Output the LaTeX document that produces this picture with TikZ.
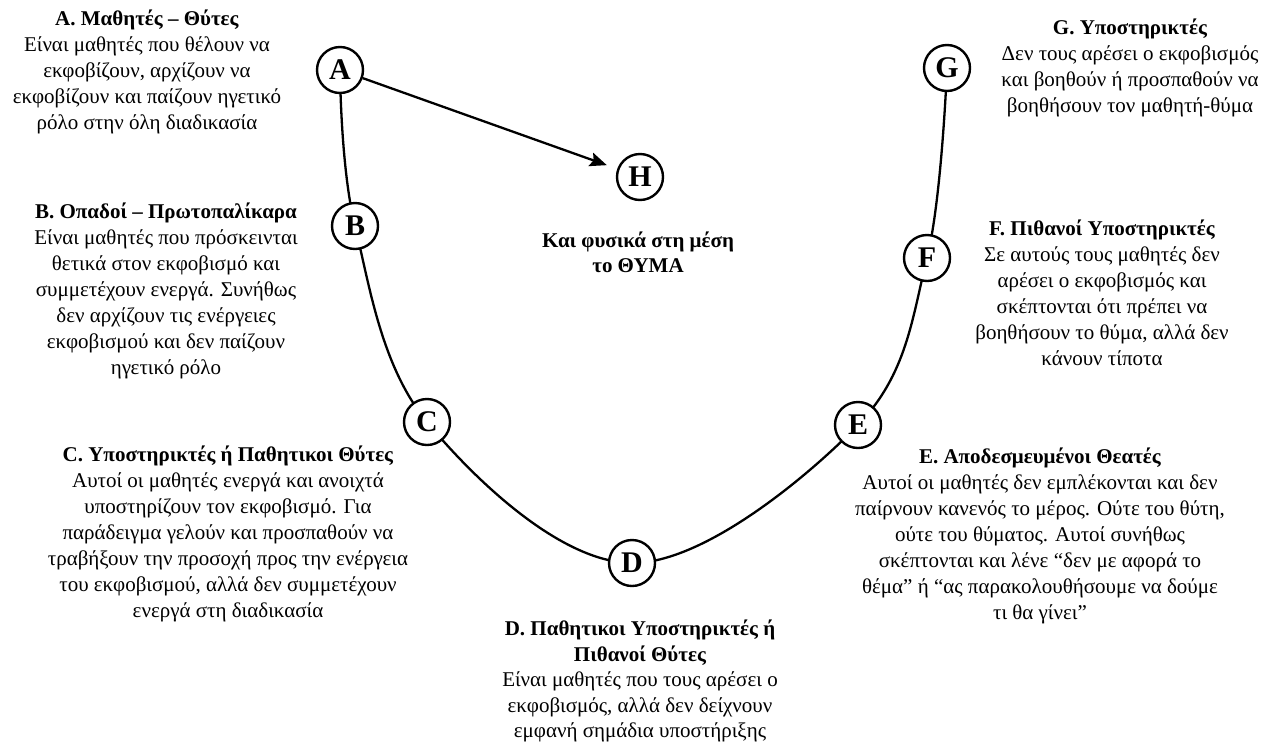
\documentclass[tikz,border=0pt]{standalone}
\usepackage{fontspec}
\setmainfont{Liberation Serif}
\usetikzlibrary{backgrounds,arrows.meta}
\begin{document}
\begin{tikzpicture}[x=1pt,y=-1pt,
  role/.style={circle,draw,line width=2.4pt,fill=white,minimum size=46pt,
    inner sep=0pt,font=\fontsize{30}{30}\selectfont\bfseries},
  desc/.style={align=center,anchor=north,inner sep=0pt,
    font=\fontsize{21}{26}\selectfont},
  link/.style={line width=2.3pt}]
\useasboundingbox (0,0) rectangle (1265,742);

% role circles along the U
\node[role] (A) at (340,70) {A};
\node[role] (B) at (355,226) {B};
\node[role] (C) at (427,422) {C};
\node[role] (D) at (632,563) {D};
\node[role] (E) at (858,425) {E};
\node[role] (F) at (927,258) {F};
\node[role] (G) at (947,68) {G};
\node[role] (H) at (640,177) {H};

% the U-shaped line through the roles
\begin{pgfonlayer}{background}
\draw[link] plot[smooth,tension=0.6] coordinates
  {(A.center) (B.center) (C.center) (D.center) (E.center) (F.center) (G.center)};
\end{pgfonlayer}

% bully towards the victim
\draw[link,-{Stealth[length=17pt,width=14pt,inset=3pt]},shorten >=11pt] (A) -- (H);

% descriptions
\node[desc] (tA) at (147,10) {\textbf{A. Μαθητές – Θύτες}\\
  Είναι μαθητές που θέλουν να\\ εκφοβίζουν, αρχίζουν να\\
  εκφοβίζουν και παίζουν ηγετικό\\ ρόλο στην όλη διαδικασία};
\node[desc] (tB) at (166,203) {\textbf{B. Οπαδοί – Πρωτοπαλίκαρα}\\
  Είναι μαθητές που πρόσκεινται\\ θετικά στον εκφοβισμό και\\
  συμμετέχουν ενεργά. Συνήθως\\ δεν αρχίζουν τις ενέργειες\\
  εκφοβισμού και δεν παίζουν\\ ηγετικό ρόλο};
\node[desc] (tC) at (228,446) {\textbf{C. Υποστηρικτές ή Παθητικοι Θύτες}\\
  Αυτοί οι μαθητές ενεργά και ανοιχτά\\ υποστηρίζουν τον εκφοβισμό. Για\\
  παράδειγμα γελούν και προσπαθούν να\\ τραβήξουν την προσοχή προς την ενέργεια\\
  του εκφοβισμού, αλλά δεν συμμετέχουν\\ ενεργά στη διαδικασία};
\node[desc,font=\fontsize{21}{25.4}\selectfont] (tD) at (640,620)
  {\textbf{D. Παθητικοι Υποστηρικτές ή}\\
  \textbf{Πιθανοί Θύτες}\\
  Είναι μαθητές που τους αρέσει ο\\ εκφοβισμός, αλλά δεν δείχνουν\\
  εμφανή σημάδια υποστήριξης};
\node[desc] (tE) at (1040,448) {\textbf{E. Αποδεσμευμένοι Θεατές}\\
  Αυτοί οι μαθητές δεν εμπλέκονται και δεν\\
  παίρνουν κανενός το μέρος. Ούτε του θύτη,\\
  ούτε του θύματος. Αυτοί συνήθως\\
  σκέπτονται και λένε “δεν με αφορά το\\
  θέμα” ή “ας παρακολουθήσουμε να δούμε\\ τι θα γίνει”};
\node[desc] (tF) at (1102,220) {\textbf{F. Πιθανοί Υποστηρικτές}\\
  Σε αυτούς τους μαθητές δεν\\ αρέσει ο εκφοβισμός και\\
  σκέπτονται ότι πρέπει να\\ βοηθήσουν το θύμα, αλλά δεν\\ κάνουν τίποτα};
\node[desc] (tG) at (1130,19) {\textbf{G. Υποστηρικτές}\\
  Δεν τους αρέσει ο εκφοβισμός\\ και βοηθούν ή προσπαθούν να\\
  βοηθήσουν τον μαθητή-θύμα};
\node[desc,font=\fontsize{21}{25}\selectfont\bfseries] (tH) at (638,232)
  {Και φυσικά στη μέση\\ το ΘΥΜΑ};
\end{tikzpicture}
\end{document}
